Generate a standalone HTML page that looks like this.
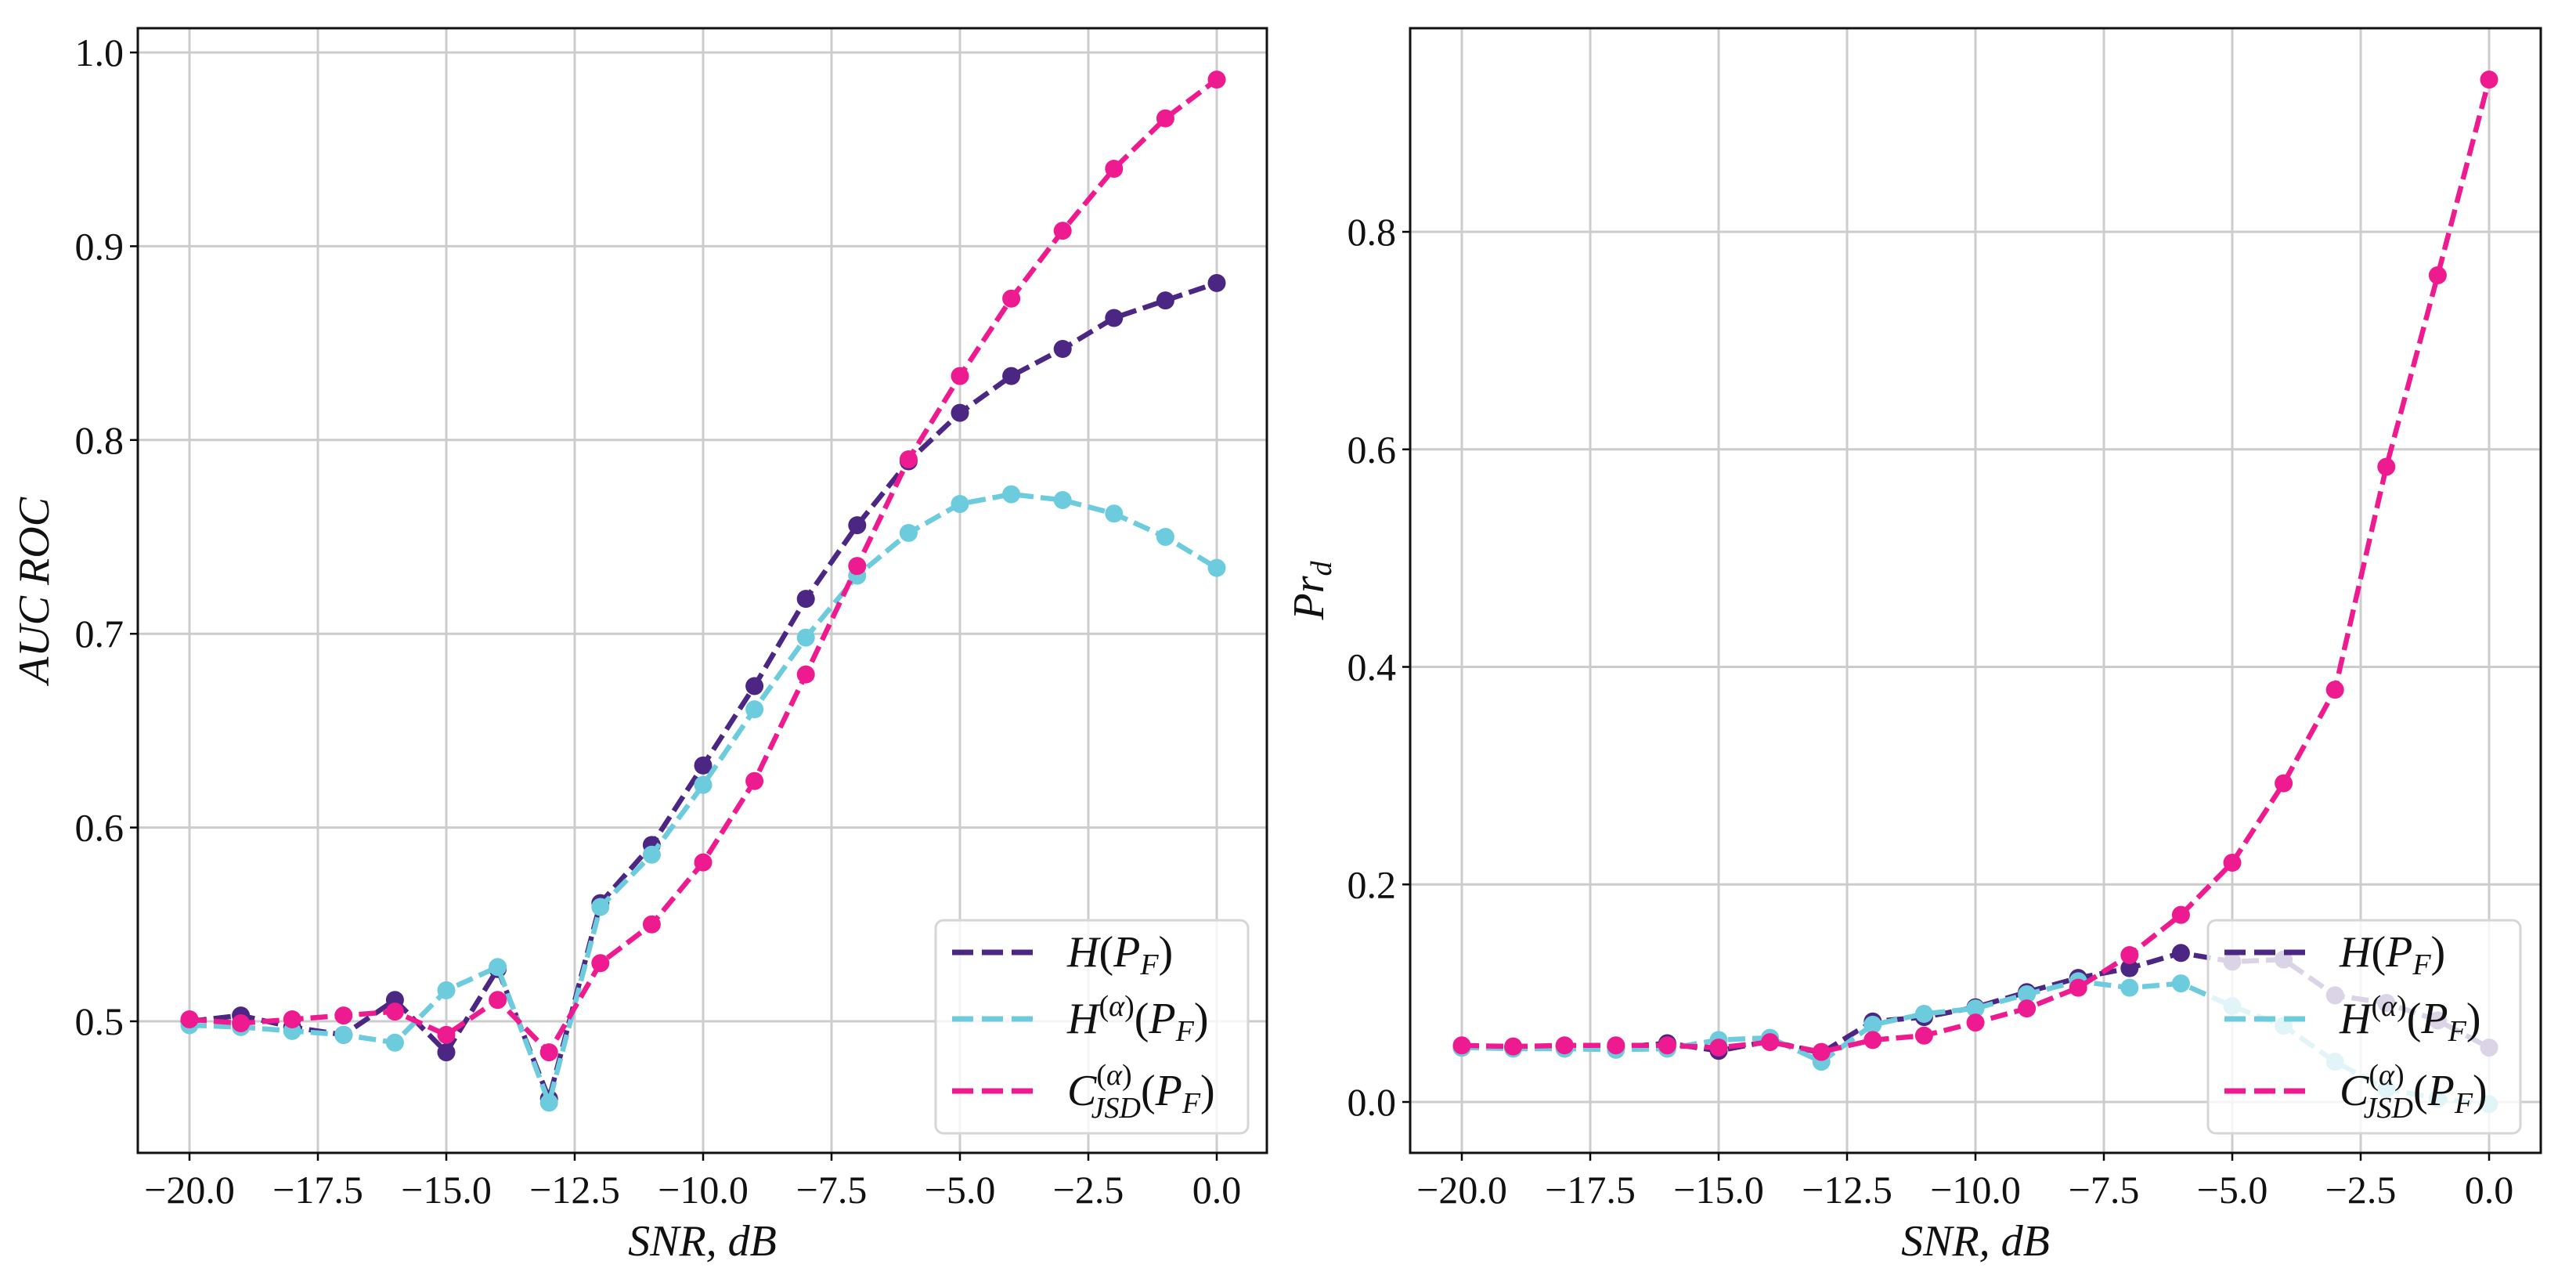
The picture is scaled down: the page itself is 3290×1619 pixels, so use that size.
<!DOCTYPE html>
<html><head><meta charset="utf-8"><style>
html,body{margin:0;padding:0;background:#fff;}
svg{display:block;}
text{font-family:"Liberation Serif",serif;fill:#111;}
</style></head><body>
<svg id="fig" width="3290" height="1619" viewBox="0 0 3290 1619" xmlns="http://www.w3.org/2000/svg">
<rect width="3290" height="1619" fill="#fff"/>
</svg>
<script>
const snr = [-20,-19,-18,-17,-16,-15,-14,-13,-12,-11,-10,-9,-8,-7,-6,-5,-4,-3,-2,-1,0];
const xTicks = [-20,-17.5,-15,-12.5,-10,-7.5,-5,-2.5,0];
const xTickLabels = ["−20.0","−17.5","−15.0","−12.5","−10.0","−7.5","−5.0","−2.5","0.0"];
const aucH = [0.500,0.503,0.497,0.493,0.511,0.484,0.527,0.460,0.561,0.591,0.632,0.673,0.718,0.756,0.789,0.814,0.833,0.847,0.863,0.872,0.881];
const aucHa = [0.498,0.497,0.495,0.493,0.489,0.516,0.528,0.458,0.559,0.586,0.622,0.661,0.698,0.730,0.752,0.767,0.772,0.769,0.762,0.750,0.734];
const aucC = [0.501,0.499,0.501,0.503,0.505,0.493,0.511,0.484,0.530,0.550,0.582,0.624,0.679,0.735,0.790,0.833,0.873,0.908,0.940,0.966,0.986];
const aucTicks = [0.5,0.6,0.7,0.8,0.9,1.0];
const aucTickLabels = ["0.5","0.6","0.7","0.8","0.9","1.0"];
const pdH = [0.050,0.050,0.051,0.050,0.054,0.047,0.056,0.045,0.074,0.078,0.087,0.101,0.114,0.123,0.137,0.129,0.131,0.098,0.091,0.075,0.050];
const pdHa = [0.050,0.049,0.049,0.048,0.049,0.057,0.059,0.037,0.071,0.081,0.086,0.099,0.111,0.105,0.109,0.088,0.070,0.037,0.012,0.003,-0.002];
const pdC = [0.052,0.051,0.052,0.052,0.052,0.050,0.055,0.046,0.057,0.061,0.073,0.086,0.105,0.135,0.172,0.220,0.293,0.379,0.584,0.760,0.940];
const pdTicks = [0,0.2,0.4,0.6,0.8];
const pdTickLabels = ["0.0","0.2","0.4","0.6","0.8"];
const seriesNames = ["H","H-alpha","C-JSD"];
const colors = ["#4b2682","#6ccbdc","#ee1a8f"];

const NS="http://www.w3.org/2000/svg";
const svg=document.getElementById('fig');
function mk(tag,attrs,parent){const e=document.createElementNS(NS,tag);for(const k in attrs)e.setAttribute(k,attrs[k]);(parent||svg).appendChild(e);return e;}

function panel(cfg){
  const g=mk('g',{});
  
  
  const X=v=>cfg.x0+(v+20)/20*(cfg.x1-cfg.x0);
  const Y=v=>cfg.yA+(v-cfg.vA)/(cfg.vB-cfg.vA)*(cfg.yB-cfg.yA);
  xTicks.forEach((t,i)=>{
    const l=mk('line',{x1:X(t),x2:X(t),y1:cfg.top,y2:cfg.bot,stroke:'#cccccc','stroke-width':3},g);
    
    
    mk('line',{x1:X(t),x2:X(t),y1:cfg.bot,y2:cfg.bot+10,stroke:'#000','stroke-width':2.5},g);
    const tx=mk('text',{x:X(t),y:cfg.bot+64,'text-anchor':'middle','font-size':50},g);
    tx.textContent=xTickLabels[i];
    
    
  });
  cfg.ticks.forEach((t,i)=>{
    const l=mk('line',{x1:cfg.left,x2:cfg.right,y1:Y(t),y2:Y(t),stroke:'#cccccc','stroke-width':3},g);
    
    
    mk('line',{x1:cfg.left-10,x2:cfg.left,y1:Y(t),y2:Y(t),stroke:'#000','stroke-width':2.5},g);
    const tx=mk('text',{x:cfg.left-18,y:Y(t)+17,'text-anchor':'end','font-size':50},g);
    tx.textContent=cfg.tickLabels[i];
    
    
  });
  cfg.series.forEach((s,k)=>{
    const pts=s.map((v,i)=>X(snr[i])+','+Y(v)).join(' ');
    const pl=mk('polyline',{points:pts,fill:'none',stroke:colors[k],'stroke-width':6.5,'stroke-dasharray':'22 9','stroke-linejoin':'round'},g);
    
    
    s.forEach((v,i)=>{
      const c=mk('circle',{cx:X(snr[i]),cy:Y(v),r:11.5,fill:colors[k]},g);
      
      
    });
  });
  const fr=mk('rect',{x:cfg.left,y:cfg.top,width:cfg.right-cfg.left,height:cfg.bot-cfg.top,fill:'none',stroke:'#111','stroke-width':3},g);
  
  
  const lg=mk('g',{},g);
  
  
  const lx=cfg.legX, ly=cfg.legY;
  mk('rect',{x:lx,y:ly,width:399,height:272,rx:10,fill:'#fff','fill-opacity':0.8,stroke:'#d6d6d6','stroke-width':3},lg);
  const rows=[41,126,218];
  const labels=[
    '<tspan font-style="italic">H</tspan>(<tspan font-style="italic">P</tspan><tspan font-style="italic" font-size="38" dy="10">F</tspan><tspan dy="-10">)</tspan>',
    '<tspan font-style="italic">H</tspan><tspan font-size="38" dy="-22">(<tspan font-style="italic">α</tspan>)</tspan><tspan dy="22">(</tspan><tspan font-style="italic">P</tspan><tspan font-style="italic" font-size="38" dy="10">F</tspan><tspan dy="-10">)</tspan>',
    '<tspan font-style="italic">C</tspan><tspan font-size="38" dy="-26">(<tspan font-style="italic">α</tspan>)</tspan><tspan font-size="38" font-style="italic" dx="-52" dy="42">JSD</tspan><tspan dy="-16">(</tspan><tspan font-style="italic">P</tspan><tspan font-style="italic" font-size="38" dy="10">F</tspan><tspan dy="-10">)</tspan>'
  ];
  rows.forEach((r,k)=>{
    const e=mk('line',{x1:lx+21,x2:lx+125,y1:ly+r,y2:ly+r,stroke:colors[k],'stroke-width':7,'stroke-dasharray':'27 11'},lg);
    
    
    const t=mk('text',{x:lx+168,y:ly+r+18,'font-size':56},lg);
    t.innerHTML=labels[k];
    
    
  });
  const xt=mk('text',{x:(cfg.left+cfg.right)/2,y:1603,'text-anchor':'middle','font-size':56,'font-style':'italic'},g);
  xt.textContent='SNR, dB';
  
  
  const yt=mk('text',{x:0,y:0,'text-anchor':'middle','font-size':56,'font-style':'italic',transform:`translate(${cfg.ytx},${(cfg.top+cfg.bot)/2}) rotate(-90)`},g);
  yt.innerHTML=cfg.ytitle;
  
  
}

panel({name:'auc-roc-chart',left:176,right:1618,top:36,bot:1472,x0:242,x1:1554,
  yA:1304,vA:0.5,yB:67,vB:1.0,ticks:aucTicks,tickLabels:aucTickLabels,
  series:[aucH,aucHa,aucC],legX:1195,legY:1175,ytx:62,ytitle:'AUC ROC'});
panel({name:'pd-chart',left:1801,right:3245,top:36,bot:1472,x0:1867,x1:3179,
  yA:1407,vA:0,yB:296,vB:0.8,ticks:pdTicks,tickLabels:pdTickLabels,
  series:[pdH,pdHa,pdC],legX:2820,legY:1175,ytx:1690,ytitle:'Pr<tspan font-size="38" dy="10">d</tspan>'});
</script>
</body></html>
